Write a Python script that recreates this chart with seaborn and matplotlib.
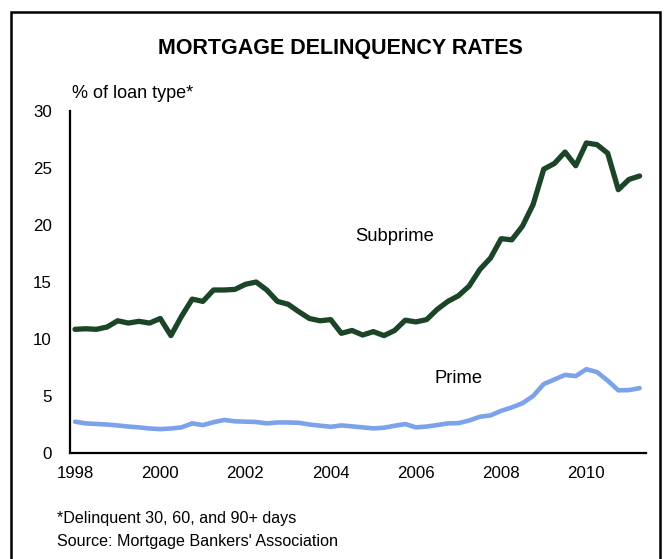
import pandas as pd
import seaborn as sns
import matplotlib.pyplot as plt
from matplotlib.patches import Rectangle

"""
Mortgage delinquency rates, subprime vs prime, quarterly 1998-2011.
"""
# Quarterly values (1998Q1 .. 2011Q2)
subprime = [10.85, 10.9, 10.85, 11.05, 11.6, 11.4, 11.55, 11.4, 11.8, 10.3,
            12.0, 13.5, 13.3, 14.3, 14.3, 14.35, 14.8, 15.0, 14.3, 13.3,
            13.05, 12.4, 11.8, 11.6, 11.7, 10.5, 10.75, 10.35, 10.65, 10.3,
            10.75, 11.65, 11.5, 11.7, 12.6, 13.3, 13.8, 14.65, 16.1, 17.1,
            18.8, 18.7, 19.9, 21.8, 24.9, 25.4, 26.4, 25.2, 27.2, 27.05,
            26.3, 23.1, 24.0, 24.3]
prime = [2.75, 2.6, 2.55, 2.5, 2.42, 2.32, 2.25, 2.15, 2.1, 2.15,
         2.25, 2.6, 2.45, 2.7, 2.9, 2.78, 2.75, 2.72, 2.6, 2.68,
         2.68, 2.65, 2.5, 2.4, 2.3, 2.42, 2.34, 2.25, 2.16, 2.22,
         2.39, 2.54, 2.25, 2.32, 2.45, 2.6, 2.62, 2.85, 3.18, 3.3,
         3.7, 4.0, 4.37, 5.0, 6.05, 6.45, 6.85, 6.75, 7.35, 7.1,
         6.35, 5.5, 5.52, 5.69]
quarters = [1998 + i / 4 for i in range(len(subprime))]
year_ticks = [1998, 2000, 2002, 2004, 2006, 2008, 2010]
y_ticks = [0, 5, 10, 15, 20, 25, 30]

df = pd.DataFrame({"date": quarters * 2,
                   "rate": subprime + prime,
                   "type": ["Subprime"] * len(subprime) + ["Prime"] * len(prime)})

sns.set_style("white", {"text.color": "black", "xtick.color": "black",
                        "ytick.color": "black", "axes.labelcolor": "black"})
plt.rcParams["font.family"] = ["Liberation Sans", "DejaVu Sans"]

fig = plt.figure(figsize=(6.66, 5.59), dpi=100)
ax = fig.add_axes([0.105, 0.1896, 0.865, 0.6118])

sns.lineplot(data=df, x="date", y="rate", hue="type",
             palette={"Subprime": "#1b4526", "Prime": "#7ba2ea"},
             linewidth=3.6, legend=False, ax=ax)
for line, lw in zip(ax.get_lines(), [3.8, 3.3]):
    line.set_linewidth(lw)
    line.set_solid_capstyle("round")
    line.set_solid_joinstyle("round")

ax.set_xlim(1997.88, 2011.40)
ax.set_ylim(0, 30)
ax.set_xticks(year_ticks)
ax.set_yticks(y_ticks)
ax.tick_params(axis="y", length=0, pad=13, labelsize=12.2, labelcolor="black")
ax.tick_params(axis="x", length=0, pad=9, labelsize=12.2, labelcolor="black")
ax.set_xlabel(None)
ax.set_ylabel(None)
sns.despine(ax=ax)
for side in ["left", "bottom"]:
    ax.spines[side].set_linewidth(1.6)
    ax.spines[side].set_color("black")

# In-chart series labels
ax.text(2005.49, 19.0, "Subprime", ha="center", va="center", fontsize=13.2, color="black")
ax.text(2006.99, 6.5, "Prime", ha="center", va="center", fontsize=13.2, color="black")

# Titles and notes
fig.text(0.511, 0.913, "MORTGAGE DELINQUENCY RATES", ha="center", va="center",
         fontsize=15.5, fontweight="bold", color="black")
fig.text(0.108, 0.833, "% of loan type*", ha="left", va="center", fontsize=13,
         color="black")
fig.text(0.086, 0.072, "*Delinquent 30, 60, and 90+ days", ha="left", va="center",
         fontsize=11.6, color="black")
fig.text(0.086, 0.032, "Source: Mortgage Bankers' Association", ha="left",
         va="center", fontsize=11.6, color="black")

# Frame around the figure (bottom edge falls off the canvas)
fig.patches.append(Rectangle((0.0165, -0.05), 0.974, 1.029, transform=fig.transFigure,
                             fill=False, edgecolor="black", linewidth=1.8))

plt.savefig("out.png", dpi=100)
plt.close()
